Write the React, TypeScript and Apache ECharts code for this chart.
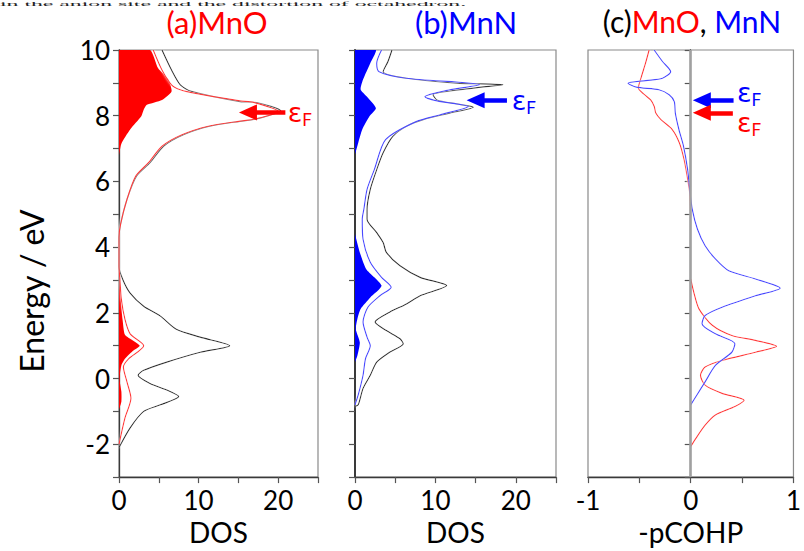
import React, { useEffect, useRef } from "react";
import * as echarts from "echarts";

// ---------- data: [DOS or -pCOHP, Energy (eV)] ----------
const mnoTotal: number[][] = [
  [0, -2.1], [1.4, -1.5], [3.1, -1.0], [5.2, -0.8], [7.5, -0.55], [6.0, -0.35], [3.9, -0.15], [2.4, 0.1],
  [3.1, 0.25], [6.0, 0.5], [10.2, 0.8], [13.9, 1.0], [10.2, 1.26], [7.2, 1.5], [5.2, 1.9], [3.1, 2.2],
  [1.4, 2.6], [0.5, 3.0], [0, 3.4], [0, 4.3], [0.2, 4.7], [1.0, 5.45], [2.2, 6.16], [3.9, 6.57],
  [5.6, 7.07], [8.1, 7.42], [11.4, 7.68], [15.2, 7.83], [17.3, 7.9], [20.3, 8.15], [17.3, 8.4],
  [15.2, 8.43], [9.1, 8.74], [7.7, 8.94], [6.6, 9.39], [5.4, 10],
];
const mnoPartial: number[][] = [
  [0, -2.0], [0.75, -1.2], [1.5, -0.6], [1.0, -0.1], [0.55, 0.35], [1.2, 0.6], [3.1, 1.0], [1.4, 1.36],
  [0.75, 1.8], [0.3, 2.4], [0.1, 3.05], [0, 3.4], [0, 4.3], [0.2, 4.7], [1.0, 5.45], [2.1, 6.16],
  [3.7, 6.57], [5.4, 7.07], [7.9, 7.42], [11.2, 7.68], [15.0, 7.83], [17.1, 7.9], [20.0, 8.13],
  [17.0, 8.4], [15.2, 8.45], [9.8, 8.67], [7.7, 8.79], [6.6, 8.94], [5.4, 9.39], [4.3, 10],
];
const mnoFillLow: number[][] = [
  [0, 3.1], [0.15, 2.6], [0.25, 2.3], [0.45, 1.8], [0.75, 1.33], [1.8, 1.15], [2.6, 1.0], [1.8, 0.85],
  [0.75, 0.6], [0.3, 0.4], [0.1, 0.1], [0.1, -0.1], [0.3, -0.4], [0.3, -0.7], [0, -0.95],
];
const mnoFillHigh: number[][] = [
  [0, 6.8], [0.3, 7.15], [1.4, 7.58], [2.8, 7.98], [3.1, 8.18], [3.5, 8.33], [5.4, 8.48], [6.6, 8.74],
  [6.2, 9.1], [4.9, 9.45], [3.9, 10],
];

const mnnTotal: number[][] = [
  [0, -0.85], [0.4, -0.8], [1.0, -0.3], [1.9, 0.1], [2.7, 0.5], [4.3, 0.8], [6.0, 1.06], [5.6, 1.21],
  [3.9, 1.46], [2.5, 1.72], [4.3, 2.02], [6.4, 2.27], [8.1, 2.52], [11.4, 2.83], [8.1, 3.08], [5.6, 3.43],
  [3.9, 3.84], [3.5, 4.14], [2.7, 4.44], [1.5, 4.85], [1.5, 5.15], [1.9, 5.76], [2.7, 6.36], [3.5, 6.87],
  [4.7, 7.37], [6.4, 7.68], [8.5, 7.88], [11.8, 8.08], [14.7, 8.26], [12.6, 8.36], [10.2, 8.48],
  [9.7, 8.64], [14.7, 8.84], [18.4, 8.94], [12.6, 8.99], [6.4, 9.14], [3.5, 9.34], [4.1, 9.65], [4.6, 10],
];
const mnnPartial: number[][] = [
  [0, -0.8], [0.4, -0.5], [1.0, 0.1], [1.3, 0.6], [1.9, 1.0], [1.5, 1.26], [1.0, 1.72], [1.6, 2.17],
  [3.1, 2.52], [4.5, 2.78], [3.3, 3.08], [1.9, 3.54], [1.0, 4.24], [0.9, 4.85], [1.1, 5.15], [1.5, 5.76],
  [2.4, 6.36], [3.8, 7.27], [7.6, 7.82], [10.6, 8.03], [14.1, 8.28], [10.2, 8.45], [8.7, 8.58],
  [11.8, 8.79], [15.5, 8.94], [6.4, 9.14], [3.0, 9.34], [2.7, 9.6], [3.3, 10],
];
const mnnFillLow: number[][] = [
  [0, 4.4], [0.6, 3.84], [1.4, 3.33], [3.3, 2.83], [1.9, 2.47], [0.7, 2.12], [0.3, 1.82], [0.1, 1.5],
  [0.6, 1.1], [0.3, 0.7], [0, 0.5],
];
const mnnFillHigh: number[][] = [
  [0, 6.82], [0.4, 7.17], [0.9, 7.58], [1.8, 7.98], [2.6, 8.23], [1.4, 8.6], [0.7, 8.8], [1.0, 9.1],
  [1.9, 9.6], [2.6, 10],
];

const mnoCohpLow: number[][] = [
  [0, -2.07], [0.05, -1.82], [0.14, -1.42], [0.24, -1.11], [0.43, -0.85], [0.52, -0.66], [0.305, -0.45],
  [0.14, -0.2], [0.095, 0.1], [0.14, 0.35], [0.305, 0.55], [0.63, 0.8], [0.835, 0.98], [0.63, 1.16],
  [0.4, 1.31], [0.21, 1.62], [0.08, 2.12], [0.03, 2.62], [0, 3.03],
];
const mnoCohpHigh: number[][] = [
  [0, 4.9], [-0.01, 5.65], [-0.035, 6.16], [-0.065, 6.67], [-0.11, 7.17], [-0.18, 7.58], [-0.29, 7.88],
  [-0.34, 8.08], [-0.355, 8.28], [-0.39, 8.48], [-0.45, 8.64], [-0.51, 8.84], [-0.48, 9.19],
  [-0.44, 9.6], [-0.405, 10],
];
const mnnCohp: number[][] = [
  [0, -0.8], [0.06, -0.5], [0.14, -0.1], [0.24, 0.4], [0.4, 0.8], [0.43, 1.06], [0.24, 1.36], [0.11, 1.67],
  [0.14, 1.92], [0.305, 2.17], [0.63, 2.52], [0.87, 2.75], [0.63, 3.03], [0.37, 3.28], [0.24, 3.64],
  [0.14, 4.04], [0.065, 4.55], [0.015, 5.15], [-0.01, 5.76], [-0.03, 6.36], [-0.07, 7.07], [-0.115, 7.58],
  [-0.15, 8.08], [-0.16, 8.43], [-0.21, 8.64], [-0.31, 8.79], [-0.53, 8.87], [-0.61, 8.99], [-0.436, 9.07],
  [-0.275, 9.14], [-0.195, 9.34], [-0.275, 9.65], [-0.356, 10],
];

// Fermi-level arrows: [tail x, tip x, energy]
const arrowA = [20.9, 16.2, 8.1];
const arrowB = [18.9, 15.0, 8.47];
const arrowCBlue = [0.417, 0.108, 8.47];
const arrowCRed = [0.41, 0.108, 8.09];
// εF label anchors [x, energy]
const labelA = [21.2, 8.1];
const labelB = [19.5, 8.47];
const labelCBlue = [0.45, 8.7];
const labelCRed = [0.45, 7.8];

const energyTicks = { min: -3, max: 10, interval: 1 };
const dosAxis = { min: 0, max: 25, interval: 5 };
const cohpAxis = { min: -1, max: 1, interval: 0.5 };

const FONT = "Lato";
const RED = "#ff0000";
const BLUE = "#0000ff";

function fillSeries(idx: number, pts: number[][], color: string) {
  return {
    type: "custom",
    xAxisIndex: idx,
    yAxisIndex: idx,
    data: [[pts[0][0], pts[0][1]]],
    clip: true,
    silent: true,
    z: 1,
    renderItem: (_p: any, api: any) => {
      const poly = [
        api.coord([0, pts[0][1]]),
        ...pts.map((d) => api.coord(d)),
        api.coord([0, pts[pts.length - 1][1]]),
      ];
      return { type: "polygon", shape: { points: poly, smooth: 0.2 }, style: { fill: color } };
    },
  };
}

function lineSeries(idx: number, pts: number[][], color: string, extra: any = {}) {
  return {
    type: "line",
    xAxisIndex: idx,
    yAxisIndex: idx,
    data: pts,
    showSymbol: false,
    smooth: 0.25,
    silent: true,
    z: 3,
    lineStyle: { color, width: 1.2, shadowColor: "rgba(255,255,255,0.9)", shadowBlur: 2 },
    ...extra,
  };
}

function arrowLine(a: number[], color: string) {
  return [
    {
      coord: [a[0], a[2]],
      lineStyle: { color, width: 4.5, type: "solid" },
      symbol: "none",
    },
    { coord: [a[1], a[2]], symbol: "triangle", symbolSize: [16, 18] },
  ];
}

function efLabel(pos: number[], color: string) {
  return {
    coord: pos,
    symbol: "circle",
    symbolSize: 0,
    label: {
      show: true,
      position: "right",
      distance: 0,
      formatter: "{e|ε}{f|F}",
      rich: {
        e: { fontSize: 27, color, fontFamily: "DejaVu Sans", lineHeight: 30 },
        f: { fontSize: 17, color, fontFamily: FONT, lineHeight: 17, padding: [14, 0, 0, 0] },
      },
    },
  };
}

const axisLabelStyle = { fontSize: 26, color: "#000", fontFamily: FONT };

function yAxis(idx: number, showLabels: boolean) {
  return {
    type: "value",
    gridIndex: idx,
    ...energyTicks,
    axisLine: { show: true, lineStyle: { color: "#3a3a3a", width: idx === 1 ? 2 : 1.3 } },
    axisTick: { show: true, inside: false, length: 6, lineStyle: { color: "#555", width: 1.2 } },
    axisLabel: {
      show: showLabels,
      margin: 9,
      ...axisLabelStyle,
      formatter: (v: number) => (Math.round(v) % 2 === 0 ? String(v) : ""),
    },
    splitLine: { show: false },
  };
}

function xAxis(idx: number, range: any, name: string, labelSet: number[]) {
  return {
    type: "value",
    gridIndex: idx,
    ...range,
    name,
    nameLocation: "middle",
    nameGap: 39,
    nameTextStyle: { fontSize: 28, color: "#000", fontFamily: FONT },
    axisLine: { show: true, onZero: false, lineStyle: { color: "#3a3a3a", width: 1.3 } },
    axisTick: { show: true, inside: false, length: 6, lineStyle: { color: "#555", width: 1.2 } },
    axisLabel: {
      margin: 10,
      ...axisLabelStyle,
      formatter: (v: number) => (labelSet.some((l) => Math.abs(l - v) < 1e-6) ? String(v) : ""),
    },
    splitLine: { show: false },
  };
}

export default function App() {
  const ref = useRef<HTMLDivElement>(null);
  useEffect(() => {
    if (!ref.current) return;
    const chart = echarts.init(ref.current, null, { renderer: "svg" });
    const gridBase = { top: 50, bottom: 73, show: true, borderColor: "#8a8a8a", borderWidth: 1.2, backgroundColor: "transparent" };
    chart.setOption({
      animation: false,
      backgroundColor: "#fff",
      textStyle: { fontFamily: FONT },
      grid: [
        { ...gridBase, left: 119, width: 199 },
        { ...gridBase, left: 355, width: 201 },
        { ...gridBase, left: 588, width: 207 },
      ],
      xAxis: [
        xAxis(0, dosAxis, "DOS", [0, 10, 20]),
        xAxis(1, dosAxis, "DOS", [0, 10, 20]),
        xAxis(2, cohpAxis, "-pCOHP", [-1, 0, 1]),
      ],
      yAxis: [yAxis(0, true), yAxis(1, false), yAxis(2, false)],
      graphic: [
        {
          type: "text",
          x: 0,
          y: 0,
          scaleX: 1.08,
          scaleY: 0.3,
          style: {
            text: "in the anion site and the distortion of octahedron.",
            fontSize: 22,
            fontFamily: "Liberation Serif",
            fill: "#222",
            verticalAlign: "top",
          },
        },
        {
          type: "text",
          x: 31,
          y: 291,
          rotation: Math.PI / 2,
          style: {
            text: "Energy / eV",
            fontSize: 32,
            fontFamily: FONT,
            fill: "#000",
            align: "center",
            verticalAlign: "middle",
          },
        },
        {
          type: "text",
          x: 217,
          y: 6,
          style: { text: "(a)MnO", fontSize: 31, fontFamily: FONT, fill: RED, align: "center" },
        },
        {
          type: "text",
          x: 466,
          y: 6,
          style: { text: "(b)MnN", fontSize: 31, fontFamily: FONT, fill: BLUE, align: "center" },
        },
        {
          type: "text",
          x: 692,
          y: 6,
          style: {
            text: "{k|(c)}{r|MnO}{k|, }{b|MnN}",
            align: "center",
            rich: {
              k: { fontSize: 30, fontFamily: FONT, fill: "#000" },
              r: { fontSize: 30, fontFamily: FONT, fill: RED },
              b: { fontSize: 30, fontFamily: FONT, fill: BLUE },
            },
          },
        },
      ],
      series: [
        fillSeries(0, mnoFillLow, RED),
        fillSeries(0, mnoFillHigh, RED),
        lineSeries(0, mnoTotal, "#333333"),
        lineSeries(0, mnoPartial, "#ff3b3b", {
          markLine: { silent: true, animation: false, label: { show: false }, data: [arrowLine(arrowA, RED)] },
          markPoint: { silent: true, animation: false, data: [efLabel(labelA, RED)] },
        }),
        fillSeries(1, mnnFillLow, BLUE),
        fillSeries(1, mnnFillHigh, BLUE),
        lineSeries(1, mnnTotal, "#333333"),
        lineSeries(1, mnnPartial, "#4a4aff", {
          markLine: { silent: true, animation: false, label: { show: false }, data: [arrowLine(arrowB, BLUE)] },
          markPoint: { silent: true, animation: false, data: [efLabel(labelB, BLUE)] },
        }),
        lineSeries(2, mnoCohpLow, "#ff3b3b"),
        lineSeries(2, mnoCohpHigh, "#ff3b3b"),
        lineSeries(2, mnnCohp, "#4a4aff", {
          markLine: {
            silent: true,
            animation: false,
            label: { show: false },
            data: [
              [
                { coord: [0, -3], lineStyle: { color: "#a0a0a0", width: 2.5, type: "solid" }, symbol: "none" },
                { coord: [0, 10], symbol: "none" },
              ],
              arrowLine(arrowCBlue, BLUE),
              arrowLine(arrowCRed, RED),
            ],
          },
          markPoint: { silent: true, animation: false, data: [efLabel(labelCBlue, BLUE), efLabel(labelCRed, RED)] },
        }),
      ],
    });
    return () => chart.dispose();
  }, []);
  return (
    <div
      ref={ref}
      style={{ position: "fixed", left: 0, top: 0, width: 804, height: 551, background: "#fff" }}
    />
  );
}
